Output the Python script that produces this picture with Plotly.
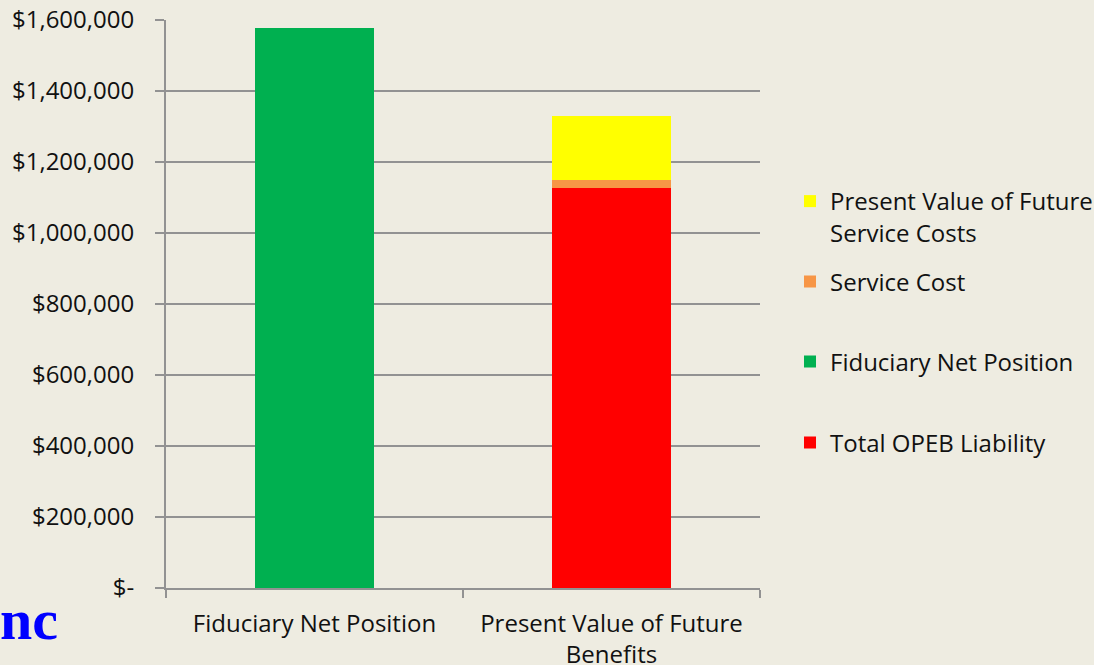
import plotly.graph_objects as go

categories = ["Fiduciary Net Position", "Present Value of Future<br>Benefits"]
total_opeb_liability = [None, 1128000]
fiduciary_net_position = [1578000, None]
service_cost = [None, 22000]
pv_future_service_costs = [None, 180000]

y_tickvals = [0, 200000, 400000, 600000, 800000, 1000000, 1200000, 1400000, 1600000]
y_ticktext = ["$-", "$200,000", "$400,000", "$600,000", "$800,000",
              "$1,000,000", "$1,200,000", "$1,400,000", "$1,600,000"]

BG = "#EEECE1"
GRID = "#929292"
FONT = "Open Sans"
FS = 24
TXT = "#111111"

W, H = 1094, 665
L, R, T, B = 166, W - 760, 20, H - 588
PW, PH = W - L - R, H - T - B


def py_to_paper(py):
    return (H - B - py) / PH


def px_to_paper(px):
    return (px - L) / PW


fig = go.Figure()
fig.add_trace(go.Bar(x=categories, y=total_opeb_liability, name="Total OPEB Liability",
                     marker=dict(color="#FF0000", line=dict(width=0)), legend="legend4",
                     showlegend=True))
fig.add_trace(go.Bar(x=categories, y=fiduciary_net_position, name="Fiduciary Net Position",
                     marker=dict(color="#00B050", line=dict(width=0)), legend="legend3",
                     showlegend=True))
fig.add_trace(go.Bar(x=categories, y=service_cost, name="Service Cost",
                     marker=dict(color="#F79646", line=dict(width=0)), legend="legend2",
                     showlegend=True))
fig.add_trace(go.Bar(x=categories, y=pv_future_service_costs,
                     name="Present Value of Future<br>Service Costs",
                     marker=dict(color="#FFFF00", line=dict(width=0)), legend="legend",
                     showlegend=True))

leg_common = dict(xanchor="left", yanchor="middle", bgcolor="rgba(0,0,0,0)",
                  font=dict(family=FONT, size=FS, color=TXT), valign="top",
                  visible=True)
lx = px_to_paper(790)

fig.update_layout(
    width=W, height=H,
    showlegend=True,
    margin=dict(l=L, r=R, t=T, b=B, pad=0, autoexpand=False),
    paper_bgcolor=BG, plot_bgcolor=BG,
    barmode="stack", bargap=0.6,
    font=dict(family=FONT, size=FS, color=TXT),
    legend=dict(x=lx, y=py_to_paper(217), **leg_common),
    legend2=dict(x=lx, y=py_to_paper(282), **leg_common),
    legend3=dict(x=lx, y=py_to_paper(362), **leg_common),
    legend4=dict(x=lx, y=py_to_paper(443), **leg_common),
    xaxis=dict(showline=True, linecolor=GRID, linewidth=2, ticks="outside",
               tickson="boundaries", ticklen=8, tickcolor=GRID, tickwidth=2,
               showgrid=False, automargin=False, ticklabelstandoff=13,
               tickfont=dict(family=FONT, size=FS, color=TXT)),
    yaxis=dict(range=[0, 1600000], tickvals=y_tickvals, ticktext=y_ticktext,
               showline=True, linecolor=GRID, linewidth=2, ticks="outside",
               ticklen=9, tickcolor=GRID, tickwidth=2, showgrid=True,
               gridcolor=GRID, gridwidth=2, zeroline=False, automargin=False,
               ticklabelstandoff=16,
               tickfont=dict(family=FONT, size=FS, color=TXT)),
    annotations=[dict(text="nc", xref="paper", yref="paper",
                      x=px_to_paper(60), y=py_to_paper(619), xanchor="right",
                      yanchor="middle", showarrow=False,
                      font=dict(family="Liberation Serif", size=58, color="#0000FF",
                                weight="bold"))],
)

fig.write_html("out.html", config={"displayModeBar": False},
               post_script="document.body.style.margin='0';document.body.style.overflow='hidden';")
